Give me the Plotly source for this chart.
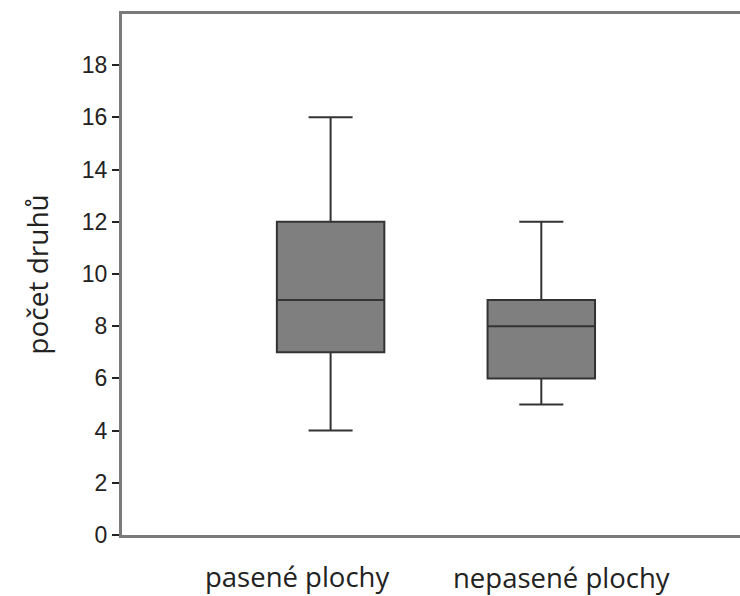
import plotly.graph_objects as go

categories = ["pasené plochy", "nepasené plochy"]
lower = [4, 5]
q1 = [7, 6]
median = [9, 8]
q3 = [12, 9]
upper = [16, 12]
y_ticks = [0, 2, 4, 6, 8, 10, 12, 14, 16, 18]
y_title = "počet druhů"

fig = go.Figure()
fig.add_trace(go.Box(
    x=[0, 1],
    q1=q1, median=median, q3=q3, lowerfence=lower, upperfence=upper,
    fillcolor="#7f7f7f",
    line=dict(color="#333333", width=2),
    width=0.51,
    whiskerwidth=0.41,
    boxpoints=False,
    hoverinfo="skip",
))

label_shift = [-34, 20]
label_yshift = [-41, -42]
for i, c in enumerate(categories):
    fig.add_annotation(
        x=i, y=0, xref="x", yref="y", text=c, showarrow=False,
        yanchor="middle", yshift=label_yshift[i], xshift=label_shift[i],
        font=dict(family="Open Sans", size=27.5, color="#222222"),
    )

fig.update_layout(
    width=740, height=596,
    margin=dict(l=122, r=0, t=14, b=61),
    plot_bgcolor="white", paper_bgcolor="white",
    showlegend=False,
    font=dict(family="Liberation Sans, Arial", color="#222222"),
)
fig.update_xaxes(
    range=[-0.99, 1.943], showticklabels=False, ticks="",
    showgrid=False, zeroline=False,
    showline=True, linecolor="#7a7a7a", linewidth=3, mirror=True,
)
fig.update_yaxes(
    range=[0, 19.96], tickvals=y_ticks, ticks="outside", ticklen=7,
    tickwidth=2, tickcolor="#222222",
    tickfont=dict(family="Liberation Sans, Arial", size=23, color="#222222"),
    showgrid=False, zeroline=False,
    showline=True, linecolor="#7a7a7a", linewidth=3,
    title=dict(text=y_title, font=dict(family="Open Sans", size=28, color="#222222"), standoff=26),
)

fig.write_html("out.html")
